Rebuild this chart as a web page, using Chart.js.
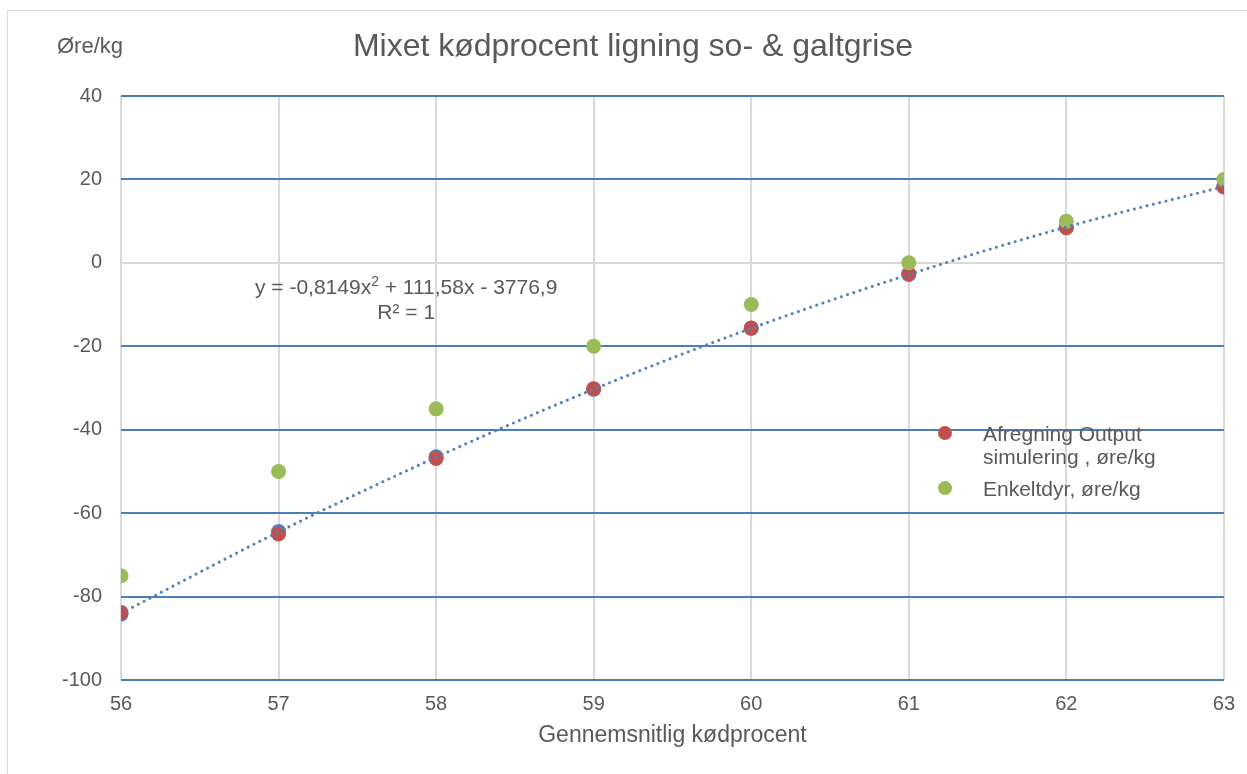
<!DOCTYPE html>
<html>
<head>
<meta charset="utf-8">
<script src="https://cdn.jsdelivr.net/npm/chart.js@4.4.1/dist/chart.umd.min.js"></script>
<style>
  html, body { margin: 0; padding: 0; background: #fff; overflow: hidden; }
  #wrap { position: relative; width: 1247px; height: 774px; }
  #frame { position: absolute; left: 7px; top: 10px; width: 1260px; height: 800px; border: 1px solid #d9d9d9; box-sizing: border-box; }
  canvas { position: absolute; left: 0; top: 0; }
</style>
</head>
<body>
<div id="wrap">
  <div id="frame"></div>
  <canvas id="c" width="1247" height="774"></canvas>
</div>
<script>
// ---- data ----
const kodprocent = [56, 57, 58, 59, 60, 61, 62, 63];
const afregningOutput = [-83.8, -65.0, -46.9, -30.2, -15.6, -2.6, 8.4, 18.2];
const enkeltdyr = [-75, -50, -35, -20, -10, 0, 10, 20];
const beregnet = [-84.2, -64.4, -46.5, -30.3, -15.7, -2.8, 8.6, 18.3];
const trendlinie = [-84.0, -64.5, -46.6, -30.3, -15.7, -2.8, 8.6, 18.3];
const yTicks = [-100, -80, -60, -40, -20, 0, 20, 40];
const xTicks = [56, 57, 58, 59, 60, 61, 62, 63];

const titleText = 'Mixet kødprocent ligning so- & galtgrise';
const yUnitText = 'Øre/kg';
const xTitleText = 'Gennemsnitlig kødprocent';
const legendLabels = ['Afregning Output\nsimulering , øre/kg', 'Enkeltdyr, øre/kg'];

const TXT = '#595959';
const FONT = '"Liberation Sans", Arial, sans-serif';
const RED = '#c0504d';
const GREEN = '#9bbb59';
const BLUE = '#4f81bd';

const pts = ys => kodprocent.map((x, i) => ({ x: x, y: ys[i] }));

const overlay = {
  id: 'overlay',
  afterDraw(chart) {
    const ctx = chart.ctx;
    const xs = chart.scales.x, ys = chart.scales.y;
    ctx.save();
    ctx.fillStyle = TXT;
    ctx.textBaseline = 'middle';

    // title
    ctx.font = '32px ' + FONT;
    ctx.textAlign = 'center';
    ctx.fillText(titleText, 633, 47);

    // y unit label
    ctx.font = '22px ' + FONT;
    ctx.textAlign = 'left';
    ctx.fillText(yUnitText, 57, 47);

    // trendline equation
    ctx.font = '21px ' + FONT;
    const p1 = 'y = -0,8149x', p2 = '2', p3 = ' + 111,58x - 3776,9';
    const w1 = ctx.measureText(p1).width, w3 = ctx.measureText(p3).width;
    ctx.font = '14px ' + FONT;
    const w2 = ctx.measureText(p2).width;
    const cx = xs.getPixelForValue(57.81);
    let x0 = cx - (w1 + w2 + w3) / 2;
    const ey = ys.getPixelForValue(-6.1);
    ctx.font = '21px ' + FONT;
    ctx.textAlign = 'left';
    ctx.fillText(p1, x0, ey);
    ctx.font = '14px ' + FONT;
    ctx.fillText(p2, x0 + w1, ey - 6);
    ctx.font = '21px ' + FONT;
    ctx.fillText(p3, x0 + w1 + w2, ey);
    ctx.textAlign = 'center';
    ctx.fillText('R² = 1', cx, ys.getPixelForValue(-12));

    // legend
    const lx = xs.getPixelForValue(61.23);
    const items = [
      { color: RED, lines: legendLabels[0].split('\n'), y: ys.getPixelForValue(-40.8) },
      { color: GREEN, lines: legendLabels[1].split('\n'), y: ys.getPixelForValue(-54) }
    ];
    items.forEach(it => {
      ctx.fillStyle = it.color;
      ctx.beginPath();
      ctx.arc(lx, it.y, 7, 0, Math.PI * 2);
      ctx.fill();
      ctx.fillStyle = TXT;
      ctx.font = '21px ' + FONT;
      ctx.textAlign = 'left';
      it.lines.forEach((ln, k) => ctx.fillText(ln, lx + 38, it.y + 2 + k * 23));
    });
    ctx.restore();
  }
};

new Chart(document.getElementById('c'), {
  type: 'scatter',
  data: {
    datasets: [
      {
        label: 'Trendlinie',
        data: pts(trendlinie),
        showLine: true,
        cubicInterpolationMode: 'monotone',
        borderColor: BLUE,
        borderWidth: 3,
        borderDash: [0.01, 6.5],
        borderCapStyle: 'round',
        pointRadius: 0,
        fill: false
      },
      {
        label: 'Enkeltdyr, øre/kg',
        data: pts(enkeltdyr),
        backgroundColor: GREEN,
        borderColor: GREEN,
        pointRadius: 7.5,
        borderWidth: 0
      },
      {
        label: 'Afregning Output simulering , øre/kg',
        data: pts(afregningOutput),
        backgroundColor: RED,
        borderColor: RED,
        pointRadius: 7.5,
        borderWidth: 0
      },
      {
        label: 'Beregnet',
        data: pts(beregnet),
        backgroundColor: BLUE,
        borderColor: BLUE,
        pointRadius: 7.5,
        borderWidth: 0
      }
    ]
  },
  options: {
    responsive: false,
    animation: false,
    devicePixelRatio: 1,
    layout: { padding: { left: 0, right: 22, top: 96, bottom: 0 } },
    plugins: {
      legend: { display: false },
      tooltip: { enabled: false },
      title: { display: false }
    },
    scales: {
      x: {
        type: 'linear',
        min: 56, max: 63,
        afterBuildTicks: s => { s.ticks = xTicks.map(v => ({ value: v })); },
        afterFit: s => { s.height = 94; },
        grid: { color: '#d9d9d9', lineWidth: 2, drawTicks: false },
        border: { display: false },
        ticks: { color: TXT, font: { family: FONT, size: 20 }, padding: 12 },
        title: { display: true, text: xTitleText, color: TXT, font: { family: FONT, size: 23 }, padding: { top: 0, bottom: 25 } }
      },
      y: {
        min: -100, max: 40,
        afterBuildTicks: s => { s.ticks = yTicks.map(v => ({ value: v })); },
        afterFit: s => { s.width = 121; },
        grid: {
          color: c => (c.tick && c.tick.value === 0) ? '#d9d9d9' : '#4a7ebb',
          lineWidth: 2,
          drawTicks: false
        },
        border: { display: false },
        ticks: { color: TXT, font: { family: FONT, size: 20 }, padding: 19 }
      }
    }
  },
  plugins: [overlay]
});
</script>
</body>
</html>
